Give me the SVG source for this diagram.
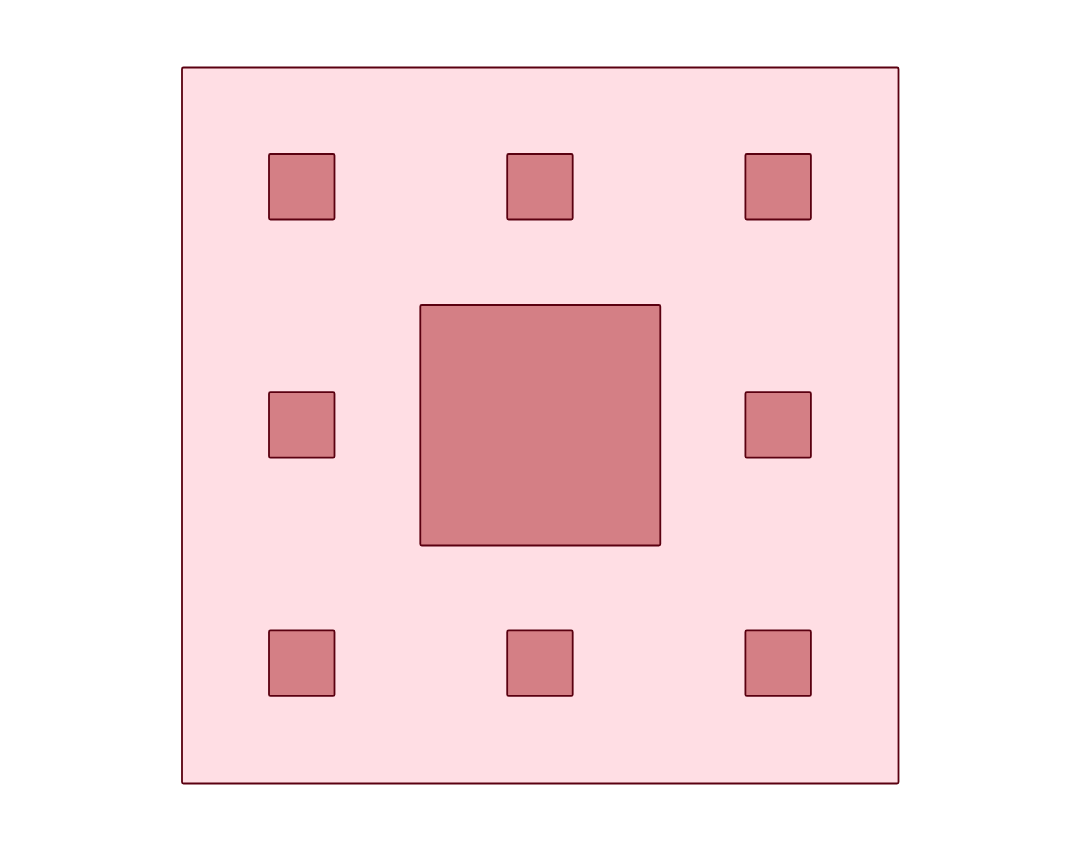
<svg xmlns="http://www.w3.org/2000/svg" width="1080" height="850" viewBox="0 0 1080 850">
<style>
.outer{fill:#FFDEE4;stroke:#5A0010;stroke-width:1.8}
.hole{fill:#D47F85;stroke:#5A0010;stroke-width:1.8}
</style>
<rect width="1080" height="850" fill="#FFFFFF"/>
<g id="outer"><rect class="outer" x="182" y="67.5" width="716.5" height="716" rx="1.5"/></g>
<g id="center"><rect class="hole" x="420.3" y="305" width="240" height="240.5" rx="1.5"/></g>
<g id="s1"><rect class="hole" x="269" y="154" width="65.5" height="65.5" rx="1.5"/></g>
<g id="s2"><rect class="hole" x="507.2" y="154" width="65.5" height="65.5" rx="1.5"/></g>
<g id="s3"><rect class="hole" x="745.4" y="154" width="65.5" height="65.5" rx="1.5"/></g>
<g id="s4"><rect class="hole" x="269" y="392.2" width="65.5" height="65.5" rx="1.5"/></g>
<g id="s5"><rect class="hole" x="745.4" y="392.2" width="65.5" height="65.5" rx="1.5"/></g>
<g id="s6"><rect class="hole" x="269" y="630.4" width="65.5" height="65.5" rx="1.5"/></g>
<g id="s7"><rect class="hole" x="507.2" y="630.4" width="65.5" height="65.5" rx="1.5"/></g>
<g id="s8"><rect class="hole" x="745.4" y="630.4" width="65.5" height="65.5" rx="1.5"/></g>
<g id="connectors"></g>
</svg>
